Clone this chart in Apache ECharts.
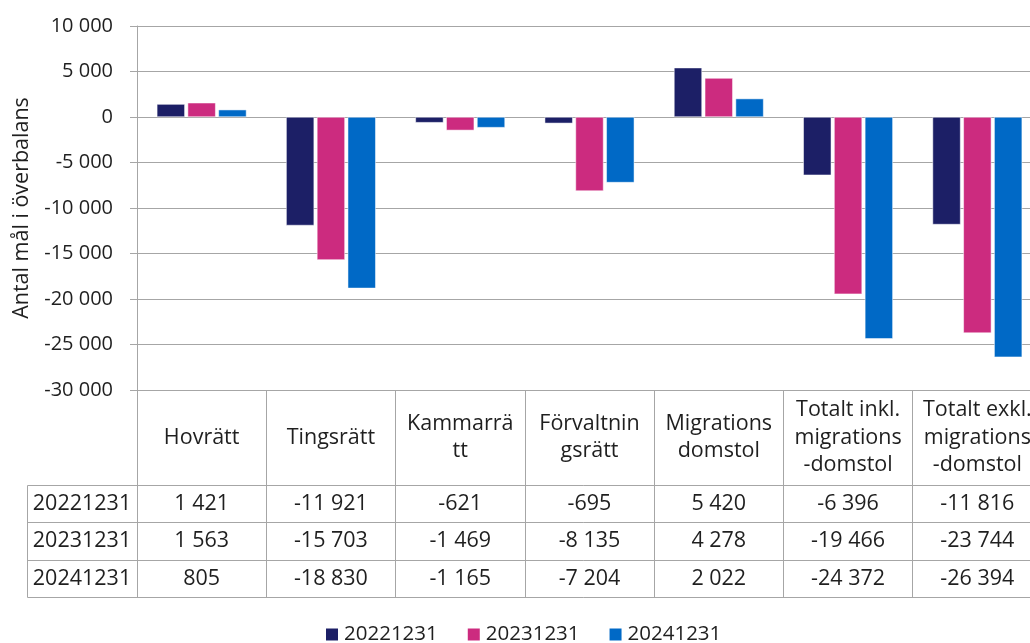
<!DOCTYPE html>
<html>
<head>
<meta charset="utf-8">
<script src="https://cdn.jsdelivr.net/npm/echarts@6/dist/echarts.min.js"></script>
<style>
  html, body { margin: 0; padding: 0; background: #fff; }
  #chart { width: 1030px; height: 643px; }
</style>
</head>
<body>
<div id="chart"></div>
<script>
// kategorier (med radbrytningar som i originalet)
const categories = ['Hovrätt', 'Tingsrätt', 'Kammarrä\ntt', 'Förvaltnin\ngsrätt', 'Migrations\ndomstol',
  'Totalt inkl.\nmigrations\n-domstol', 'Totalt exkl.\nmigrations\n-domstol'];
const seriesNames = ['20221231', '20231231', '20241231'];
const values2022 = [1421, -11921, -621, -695, 5420, -6396, -11816];
const values2023 = [1563, -15703, -1469, -8135, 4278, -19466, -23744];
const values2024 = [805, -18830, -1165, -7204, 2022, -24372, -26394];
const yTicks = { min: -30000, max: 10000, interval: 5000 };

const allValues = [values2022, values2023, values2024];
const colors = ['#1c1f66', '#cc2b7f', '#0069c6'];
const lineColor = '#a6a6a6';
const textColor = '#1f1f1f';
const font = 'Open Sans';
const tableFont = 21.5;

// tusentalsavgränsare med mellanslag
function fmt(v) {
  return String(v).replace(/\B(?=(\d{3})+(?!\d))/g, ' ');
}

// layout
const gridLeft = 137, gridTop = 26, gridWidth = 905, gridHeight = 364;
const headerH = 95;
const rowOffsets = [95, 132, 170, 207];
const bottom = gridTop + gridHeight;

let chart = echarts.init(document.getElementById('chart'), null, { renderer: 'canvas' });

let xAxes = [{
  type: 'category',
  data: categories,
  gridIndex: 0,
  position: 'bottom',
  axisLine: { show: true, lineStyle: { color: lineColor, width: 1 } },
  axisTick: { show: false },
  axisLabel: {
    interval: 0, margin: headerH / 2, verticalAlign: 'middle',
    color: textColor, fontFamily: font, fontSize: tableFont, lineHeight: 27.5, align: 'center'
  }
}];
// tabellrader
allValues.forEach((vals, i) => {
  xAxes.push({
    type: 'category',
    data: vals.map(fmt),
    gridIndex: 0,
    position: 'bottom',
    offset: rowOffsets[i],
    axisLine: { show: true, lineStyle: { color: lineColor, width: 1 } },
    axisTick: { show: false },
    axisLabel: {
      interval: 0, margin: (rowOffsets[i + 1] - rowOffsets[i]) / 2, verticalAlign: 'middle',
      color: textColor, fontFamily: font, fontSize: tableFont
    }
  });
});
// nedersta tabellinjen
xAxes.push({
  type: 'category',
  data: categories,
  gridIndex: 0,
  position: 'bottom',
  offset: rowOffsets[3],
  axisLine: { show: true, lineStyle: { color: lineColor, width: 1 } },
  axisTick: { show: false },
  axisLabel: { show: false }
});
// lodräta tabellinjer (egen grid under diagrammet)
xAxes.push({
  type: 'category',
  data: categories,
  gridIndex: 1,
  axisLine: { show: false },
  axisTick: { show: false },
  axisLabel: { show: false },
  splitLine: { show: true, interval: 0, lineStyle: { color: lineColor, width: 1 } }
});

// vänstra kolumnen i tabellen
let graphics = [{
  type: 'rect',
  shape: { x: 27.5, y: bottom + rowOffsets[0] + 0.5, width: gridLeft - 27, height: rowOffsets[3] - rowOffsets[0] },
  style: { fill: 'none', stroke: lineColor, lineWidth: 1 }
}];
[1, 2].forEach(i => {
  graphics.push({
    type: 'line',
    shape: { x1: 27, y1: bottom + rowOffsets[i] + 0.5, x2: gridLeft, y2: bottom + rowOffsets[i] + 0.5 },
    style: { stroke: lineColor, lineWidth: 1 }
  });
});
seriesNames.forEach((name, i) => {
  graphics.push({
    type: 'text',
    x: (27 + gridLeft) / 2,
    y: bottom + (rowOffsets[i] + rowOffsets[i + 1]) / 2,
    style: {
      text: name, fill: textColor, font: tableFont + 'px "' + font + '"',
      align: 'center', verticalAlign: 'middle'
    }
  });
});

let option = {
  backgroundColor: '#ffffff',
  animation: false,
  color: colors,
  grid: [
    { left: gridLeft, top: gridTop, width: gridWidth, height: gridHeight, outerBoundsMode: 'none' },
    { left: gridLeft, top: bottom, width: gridWidth, height: rowOffsets[3], outerBoundsMode: 'none' }
  ],
  legend: {
    data: seriesNames,
    left: 324,
    top: 624,
    padding: 0,
    icon: 'rect',
    itemWidth: 14,
    itemHeight: 14,
    itemGap: 28,
    itemTextGap: 6,
    textStyle: { color: textColor, fontFamily: font, fontSize: 20.5 }
  },
  xAxis: xAxes,
  yAxis: [{
    type: 'value',
    gridIndex: 0,
    min: yTicks.min,
    max: yTicks.max,
    interval: yTicks.interval,
    name: 'Antal mål i överbalans',
    nameLocation: 'middle',
    nameGap: 103,
    nameTextStyle: { color: textColor, fontFamily: font, fontSize: 21.5 },
    axisLine: { show: true, lineStyle: { color: lineColor, width: 1 } },
    axisTick: { show: true, length: 7, lineStyle: { color: lineColor } },
    axisLabel: { margin: 24, color: textColor, fontFamily: font, fontSize: 20, formatter: v => fmt(v) },
    splitLine: { show: true, lineStyle: { color: lineColor, width: 1 } }
  }, {
    type: 'value',
    gridIndex: 1,
    show: false,
    splitLine: { show: false }
  }],
  series: seriesNames.map((name, i) => ({
    name: name,
    type: 'bar',
    xAxisIndex: 0,
    yAxisIndex: 0,
    data: allValues[i],
    barWidth: 28,
    barGap: '10%',
    itemStyle: { borderColor: '#ffffff', borderWidth: 0.5 }
  })),
  graphic: graphics
};

chart.setOption(option);
</script>
</body>
</html>
